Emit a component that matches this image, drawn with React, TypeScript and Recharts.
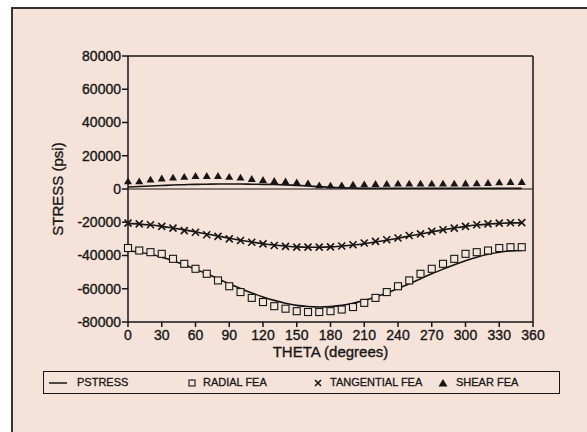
import React from "react";
import {
  ComposedChart, Line, XAxis, YAxis, ReferenceLine, Legend, Label,
} from "recharts";

const thetas = [0, 10, 20, 30, 40, 50, 60, 70, 80, 90, 100, 110, 120, 130, 140, 150, 160, 170,
  180, 190, 200, 210, 220, 230, 240, 250, 260, 270, 280, 290, 300, 310, 320, 330, 340, 350];

const radialLine = [-37300, -38000, -39300, -41000, -43100, -45500, -48200, -51000, -54000, -57000,
  -59800, -62500, -64900, -67000, -68700, -70000, -70700, -71000, -70700, -70000, -68700, -67000,
  -64900, -62500, -59800, -57000, -54000, -51000, -48200, -45500, -43100, -41000, -39300, -38000,
  -37300, -37000];
const radialFea = [-35500, -37000, -38000, -39000, -42000, -45000, -48000, -51000, -55000, -58500,
  -62000, -65500, -68000, -70500, -72000, -73500, -74000, -74000, -73500, -72500, -71000, -68500,
  -65500, -62000, -58500, -55000, -51000, -48000, -45000, -42000, -39000, -38000, -37000, -35500,
  -35000, -35000];

const tangentialLine = [-20700, -21100, -21700, -22500, -23500, -24600, -25800, -27100, -28300,
  -29600, -30800, -31900, -32900, -33700, -34300, -34800, -35000, -35000, -34800, -34300, -33700,
  -32900, -31900, -30800, -29600, -28300, -27100, -25800, -24600, -23500, -22500, -21700, -21100,
  -20700, -20400, -20400];
const tangentialFea = [-20500, -21000, -21500, -22500, -23500, -25000, -26000, -27500, -28500,
  -30000, -31000, -32000, -33000, -34000, -34500, -35000, -35000, -35000, -34800, -34300, -33500,
  -32500, -31500, -30500, -29500, -28000, -27000, -25500, -24500, -23500, -22500, -21500, -21000,
  -20500, -20300, -20200];

const shearLine = [1200, 1500, 1800, 2100, 2400, 2600, 2800, 2900, 3000, 3000, 3000, 2900, 2800,
  2700, 2500, 2200, 1800, 1400, 1000, 700, 500, 400, 400, 400, 400, 400, 400, 400, 400, 400, 400,
  400, 400, 400, 400, 400];
const shearFea = [4800, 4800, 5800, 6500, 7000, 7500, 8000, 8000, 8000, 7500, 7000, 6200, 5600,
  5000, 4700, 4200, 3600, 2400, 2200, 2400, 2800, 3000, 3200, 3300, 3400, 3400, 3400, 3400, 3400,
  3400, 3500, 3600, 3800, 4200, 4400, 4400];

const xTicks = [0, 30, 60, 90, 120, 150, 180, 210, 240, 270, 300, 330, 360];
const yTicks = [-80000, -60000, -40000, -20000, 0, 20000, 40000, 60000, 80000];

const data = thetas.map((t, i) => ({
  theta: t,
  radLine: radialLine[i],
  radFea: radialFea[i],
  tanLine: tangentialLine[i],
  tanFea: tangentialFea[i],
  shrLine: shearLine[i],
  shrFea: shearFea[i],
}));

const INK = "#161616";
const FONT = "'Liberation Sans', Arial, sans-serif";
const textStyle = { fill: INK, stroke: INK, strokeWidth: 0.35, fontFamily: FONT };

const Square = ({ cx, cy, size = 7 }: any) => (
  <rect x={cx - size / 2} y={cy - size / 2} width={size} height={size}
    fill="#f3e6de" stroke={INK} strokeWidth={1.1} />
);
const Cross = ({ cx, cy, size = 7 }: any) => (
  <path d={`M${cx - size / 2},${cy - size / 2}L${cx + size / 2},${cy + size / 2}M${cx - size / 2},${cy + size / 2}L${cx + size / 2},${cy - size / 2}`}
    stroke={INK} strokeWidth={1.6} fill="none" />
);
const Tri = ({ cx, cy, size = 8 }: any) => (
  <path d={`M${cx},${cy - size * 0.45}L${cx + size / 2},${cy + size * 0.4}L${cx - size / 2},${cy + size * 0.4}Z`}
    fill={INK} stroke="none" />
);

const dotOf = (Shape: any) => (p: any) =>
  p.cx == null ? null : <Shape key={`${p.dataKey}-${p.index}`} cx={p.cx} cy={p.cy} />;

const legendItems = [
  { name: "PSTRESS", kind: "line", x: 5, tx: 33 },
  { name: "RADIAL FEA", kind: "square", x: 139, tx: 159 },
  { name: "TANGENTIAL FEA", kind: "cross", x: 265, tx: 286 },
  { name: "SHEAR FEA", kind: "tri", x: 390, tx: 412 },
];

const LegendBox = () => (
  <div style={{
    position: "relative", width: 517, height: 23, boxSizing: "border-box",
    border: `1.5px solid ${INK}`, fontFamily: FONT, fontSize: 11, color: INK,
    WebkitTextStroke: "0.3px #161616",
  }}>
    {legendItems.map((it) => (
      <React.Fragment key={it.name}>
        <svg width={22} height={12} style={{ position: "absolute", left: it.x, top: 5 }}>
          {it.kind === "line" && <line x1={0} y1={6} x2={18} y2={6} stroke={INK} strokeWidth={1.5} />}
          {it.kind === "square" && <Square cx={9} cy={6} size={6} />}
          {it.kind === "cross" && <Cross cx={9} cy={6} size={6} />}
          {it.kind === "tri" && <Tri cx={9} cy={6} size={9} />}
        </svg>
        <span style={{ position: "absolute", left: it.tx, top: 4, whiteSpace: "nowrap" }}>{it.name}</span>
      </React.Fragment>
    ))}
  </div>
);

export default function App() {
  return (
    <div style={{ position: "absolute", left: 0, top: 0, width: 587, height: 432, background: "#ffffff", overflow: "hidden" }}>
      <div style={{
        position: "absolute", left: 11, top: 7, right: 0, bottom: 0,
        background: "#f5e2d8", borderLeft: "2px solid #333", borderTop: "2px solid #333",
      }} />
      <div style={{ position: "absolute", left: 0, top: 0 }}>
        <ComposedChart width={587} height={432} data={data}
          margin={{ top: 56, right: 54, bottom: 70, left: 0 }}>
          <XAxis type="number" dataKey="theta" domain={[0, 360]} ticks={xTicks}
            interval={0} height={40} tickSize={5} tickMargin={3}
            stroke={INK} strokeWidth={1.5}
            tick={{ ...textStyle, fontSize: 14 }}>
            <Label value="THETA (degrees)" position="insideBottom" offset={5}
              style={{ ...textStyle, fontSize: 15 }} />
          </XAxis>
          <YAxis type="number" domain={[-80000, 80000]} ticks={yTicks} interval={0}
            width={128} tickSize={6} tickMargin={1}
            stroke={INK} strokeWidth={1.5}
            tick={{ ...textStyle, fontSize: 14 }}>
            <Label value="STRESS (psi)" angle={-90} position="insideLeft" offset={58}
              style={{ ...textStyle, fontSize: 15, textAnchor: "middle" }} />
          </YAxis>
          <ReferenceLine y={80000} stroke={INK} strokeWidth={1.5} />
          <ReferenceLine x={360} stroke={INK} strokeWidth={1.5} />
          <ReferenceLine y={0} stroke={INK} strokeWidth={1} />

          <Line dataKey="radLine" name="PSTRESS" stroke={INK} strokeWidth={1.6} dot={false}
            type="monotone" isAnimationActive={false} legendType="none" />
          <Line dataKey="tanLine" name="PSTRESS" stroke={INK} strokeWidth={1.6} dot={false}
            type="monotone" isAnimationActive={false} legendType="none" />
          <Line dataKey="shrLine" name="PSTRESS" stroke={INK} strokeWidth={1.6} dot={false}
            type="monotone" isAnimationActive={false} legendType="none" />

          <Line dataKey="radFea" name="RADIAL FEA" stroke="none" dot={dotOf(Square)}
            activeDot={false} isAnimationActive={false} />
          <Line dataKey="tanFea" name="TANGENTIAL FEA" stroke="none" dot={dotOf(Cross)}
            activeDot={false} isAnimationActive={false} />
          <Line dataKey="shrFea" name="SHEAR FEA" stroke="none" dot={dotOf(Tri)}
            activeDot={false} isAnimationActive={false} />

          <Legend layout="horizontal" verticalAlign="middle" align="center"
            wrapperStyle={{ left: 43, top: 371, width: 517, height: 23 }}
            content={() => <LegendBox />} />
        </ComposedChart>
      </div>
    </div>
  );
}
